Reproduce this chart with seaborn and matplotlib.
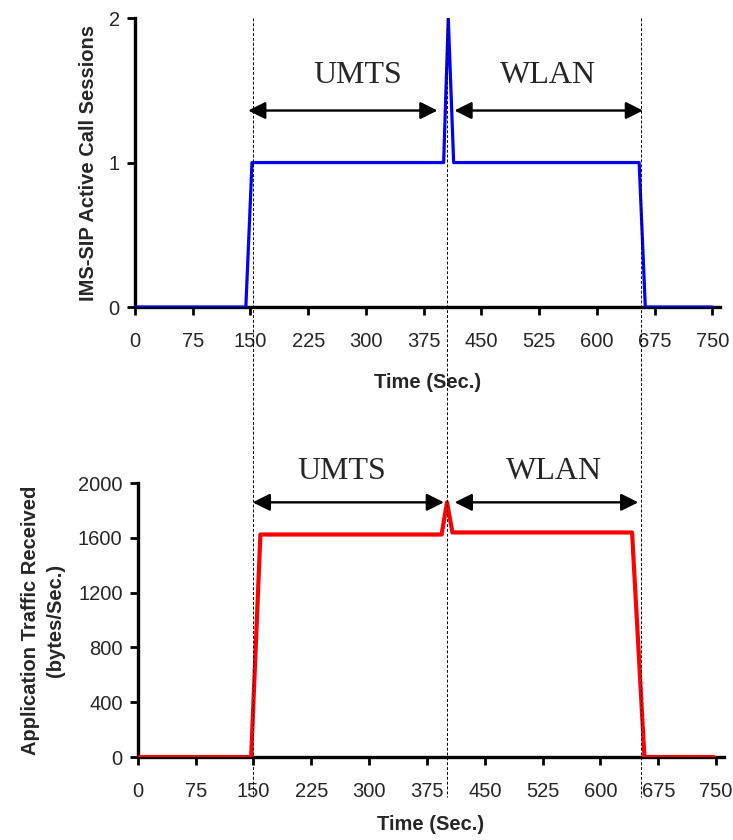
import matplotlib
matplotlib.use("Agg")
import matplotlib.pyplot as plt
import matplotlib.transforms as mtransforms
from matplotlib.lines import Line2D
import seaborn as sns
import pandas as pd

# ---- data ----
t_sip = [0, 144, 152, 401, 407, 414, 655, 663, 750]
sessions = [0, 0, 1, 1, 2, 1, 1, 0, 0]
t_app = [0, 147, 159, 394, 401, 408, 641, 657, 747]
traffic = [0, 0, 1625, 1625, 1860, 1640, 1640, 0, 0]
x_ticks = [0, 75, 150, 225, 300, 375, 450, 525, 600, 675, 750]
y_ticks_top = [0, 1, 2]
y_ticks_bot = [0, 400, 800, 1200, 1600, 2000]
boundaries = [153, 406, 657]  # handover boundaries (sec)

sns.set_style("ticks")
plt.rcParams['font.family'] = ['Liberation Sans', 'DejaVu Sans']

fig = plt.figure(figsize=(7.33, 8.4), dpi=100)
ax1 = fig.add_axes([0.1842, 0.6345, 0.798, 0.344])
ax2 = fig.add_axes([0.188, 0.0988, 0.7995, 0.326])

df1 = pd.DataFrame({"t": t_sip, "v": sessions})
df2 = pd.DataFrame({"t": t_app, "v": traffic})
sns.lineplot(data=df1, x="t", y="v", ax=ax1, color="#0000ff", linewidth=2.3, zorder=3)
sns.lineplot(data=df2, x="t", y="v", ax=ax2, color="#ff0000", linewidth=3.0, zorder=3)

label_font = dict(family=['Liberation Sans', 'DejaVu Sans'], fontweight='bold', fontsize=14.5)
xlab_font = dict(family=['Liberation Sans', 'DejaVu Sans'], fontweight='bold', fontsize=14.5)

for ax, yt, ylim, lp in [(ax1, y_ticks_top, (0, 2), 16), (ax2, y_ticks_bot, (0, 2000), 10)]:
    ax.set_xlim(0, 760)
    ax.set_ylim(*ylim)
    ax.set_xticks(x_ticks)
    ax.set_yticks(yt)
    ax.tick_params(axis='both', direction='out', length=6, width=2, labelsize=14.5, color='black', pad=5)
    ax.tick_params(axis='x', pad=12)
    for s in ['top', 'right']:
        ax.spines[s].set_visible(False)
    for s in ['left', 'bottom']:
        ax.spines[s].set_linewidth(2.4)
        ax.spines[s].set_color('black')
    ax.set_xlabel("Time (Sec.)", labelpad=lp, **xlab_font)

ax1.set_ylabel("IMS-SIP Active Call Sessions", labelpad=8, **label_font)
ax2.set_ylabel("Application Traffic Received\n(bytes/Sec.)", labelpad=9, linespacing=1.45, **label_font)

# arrows and region labels
arrow_kw = dict(arrowstyle='<|-|>', color='black', lw=1.7, mutation_scale=26, shrinkA=0, shrinkB=0)
serif = dict(family=['Liberation Serif', 'DejaVu Serif'], fontsize=23, ha='center', va='center')

ax1.annotate('', xy=(147, 1.36), xytext=(393, 1.36), arrowprops=arrow_kw, annotation_clip=False)
ax1.annotate('', xy=(415, 1.36), xytext=(660, 1.36), arrowprops=arrow_kw, annotation_clip=False)
ax1.text(290, 1.60, 'UMTS', **serif)
ax1.text(537, 1.60, 'WLAN', **serif)

ax2.annotate('', xy=(149, 1860), xytext=(397, 1860), arrowprops=arrow_kw, annotation_clip=False)
ax2.annotate('', xy=(411, 1860), xytext=(649, 1860), arrowprops=arrow_kw, annotation_clip=False)
ax2.text(264, 2085, 'UMTS', clip_on=False, **serif)
ax2.text(540, 2085, 'WLAN', clip_on=False, **serif)

# dashed boundary lines spanning both charts
trans = mtransforms.blended_transform_factory(ax1.transData, fig.transFigure)
for b in boundaries:
    fig.add_artist(Line2D([b, b], [1 - 18 / 840, 1 - 797 / 840], transform=trans,
                          color='black', lw=0.7, linestyle=(0, (3, 2)), zorder=5))

fig.savefig("out.png", dpi=100)
